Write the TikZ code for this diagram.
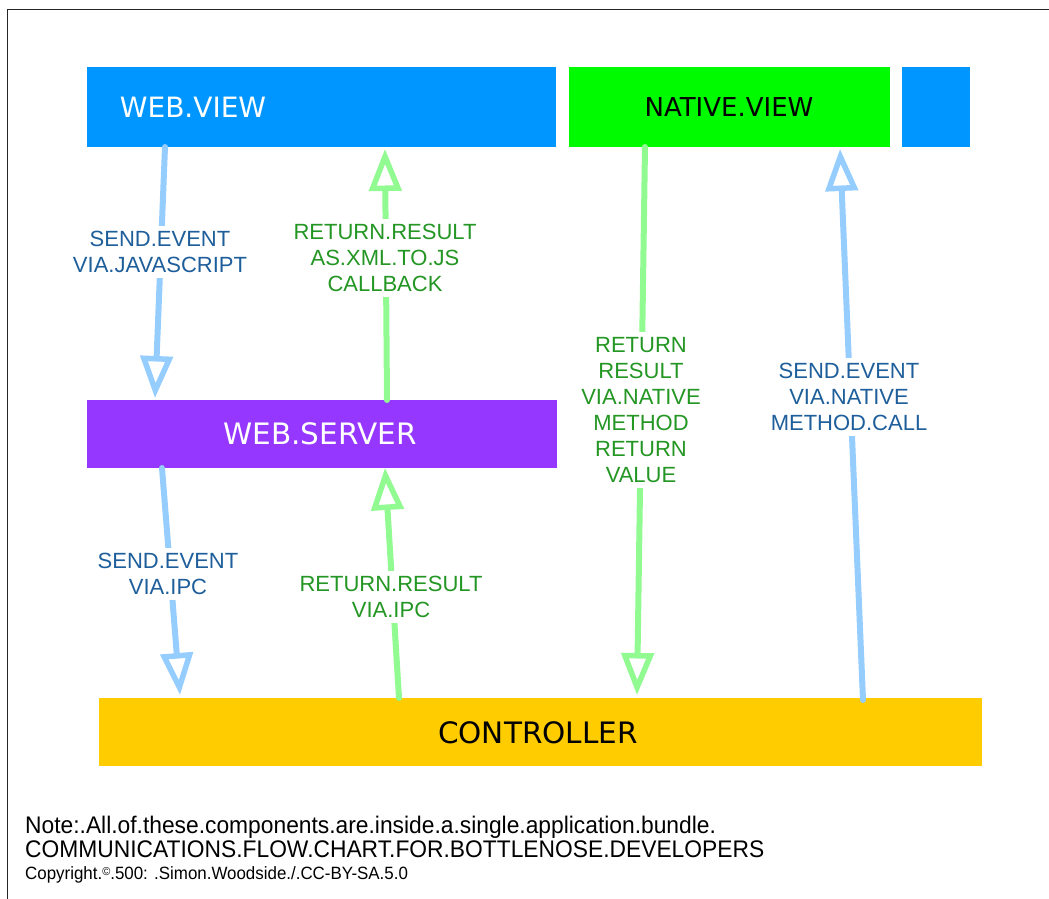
\documentclass[tikz,border=0pt]{standalone}
\usepackage{fontspec}
\setmainfont{Liberation Sans}
\newfontfamily\boxfont{DejaVu Sans}
\newfontfamily\narrowfont[FakeStretch=0.95]{Liberation Sans}
\usetikzlibrary{arrows.meta}
\definecolor{webblue}{RGB}{0,150,255}
\definecolor{natgreen}{RGB}{0,250,0}
\definecolor{srvpurple}{RGB}{150,55,255}
\definecolor{ctlyellow}{RGB}{255,204,0}
\definecolor{arrblue}{RGB}{150,205,255}
\definecolor{arrgreen}{RGB}{145,250,145}
\definecolor{txtblue}{RGB}{30,95,155}
\definecolor{txtgreen}{RGB}{35,150,35}
\begin{document}
\begin{tikzpicture}[x=1pt,y=-1pt,
  box/.style={anchor=north west, inner sep=0pt, draw=none},
  boxtext/.style={font=\boxfont\fontsize{28}{34}\selectfont, inner sep=0pt},
  bigboxtext/.style={boxtext, font=\boxfont\fontsize{29.5}{35}\selectfont},
  conn/.style={line width=6pt, line cap=round,
    -{Triangle[open, width=32pt, length=42pt, line width=5.5pt]}},
  blueconn/.style={conn, draw=arrblue},
  greenconn/.style={conn, draw=arrgreen},
  lbl/.style={fill=white, align=center, inner xsep=4pt, inner ysep=5pt,
    font=\fontsize{22}{26}\selectfont},
  bluelbl/.style={lbl, text=txtblue},
  greenlbl/.style={lbl, text=txtgreen},
  note/.style={anchor=base west, inner sep=0pt}]
\useasboundingbox (0,0) rectangle (1049,899);
\draw[line width=1.5pt, black!85] (7.5,899) -- (7.5,9.5) -- (1049,9.5);

% boxes
\node[box, fill=webblue, minimum width=469pt, minimum height=80pt] (wv) at (87,67) {};
\node[boxtext, text=white] (wvt) at (193,107) {WEB.VIEW};
\node[box, fill=natgreen, minimum width=321pt, minimum height=80pt] (nv) at (569,67) {};
\node[boxtext, text=black, font=\boxfont\fontsize{26}{32}\selectfont] (nvt) at (729,107) {NATIVE.VIEW};
\node[box, fill=webblue, minimum width=68pt, minimum height=80pt] (xv) at (902,67) {};
\node[box, fill=srvpurple, minimum width=470pt, minimum height=68pt] (ws) at (87,400) {};
\node[bigboxtext, text=white] (wst) at (320,434) {WEB.SERVER};
\node[box, fill=ctlyellow, minimum width=883pt, minimum height=68pt] (ct) at (99,698) {};
\node[bigboxtext, text=black] (ctt) at (538,733) {CONTROLLER};

% connector end points
\coordinate (a1s) at (165,147); \coordinate (a1e) at (155,398);
\coordinate (a2s) at (387,400); \coordinate (a2e) at (385,149);
\coordinate (a3s) at (162,468); \coordinate (a3e) at (180,695);
\coordinate (a4s) at (399,698); \coordinate (a4e) at (385,468);
\coordinate (a5s) at (645,147); \coordinate (a5e) at (637,695);
\coordinate (a6s) at (863,700); \coordinate (a6e) at (840,149);

\draw[blueconn] (a1s) -- (a1e);
\draw[greenconn] (a2s) -- (a2e);
\draw[blueconn] (a3s) -- (a3e);
\draw[greenconn] (a4s) -- (a4e);
\draw[greenconn] (a5s) -- (a5e);
\draw[blueconn] (a6s) -- (a6e);

% labels
\node[bluelbl] (l1) at (160,252) {SEND.EVENT\\VIA.JAVASCRIPT};
\node[greenlbl] (l2) at (385,258) {RETURN.RESULT\\AS.XML.TO.JS\\CALLBACK};
\node[bluelbl] (l3) at (168,574) {SEND.EVENT\\VIA.IPC};
\node[greenlbl] (l4) at (391,597) {RETURN.RESULT\\VIA.IPC};
\node[greenlbl] (l5) at (641,410) {RETURN\\RESULT\\VIA.NATIVE\\METHOD\\RETURN\\VALUE};
\node[bluelbl] (l6) at (849,397) {SEND.EVENT\\VIA.NATIVE\\METHOD.CALL};

% notes
\node[note, font=\narrowfont\fontsize{24}{28}\selectfont] (n1) at (25,833)
  {Note:.All.of.these.components.are.inside.a.single.application.bundle.};
\node[note, font=\narrowfont\fontsize{24}{28}\selectfont] (n2) at (25,857)
  {COMMUNICATIONS.FLOW.CHART.FOR.BOTTLENOSE.DEVELOPERS};
\node[note, font=\narrowfont\fontsize{17.8}{21}\selectfont] (n3) at (25,879)
  {Copyright.\raisebox{0.4ex}{\fontsize{11.5}{12}\selectfont ©}.500: .Simon.Woodside./.CC-BY-SA.5.0};
\end{tikzpicture}
\end{document}
